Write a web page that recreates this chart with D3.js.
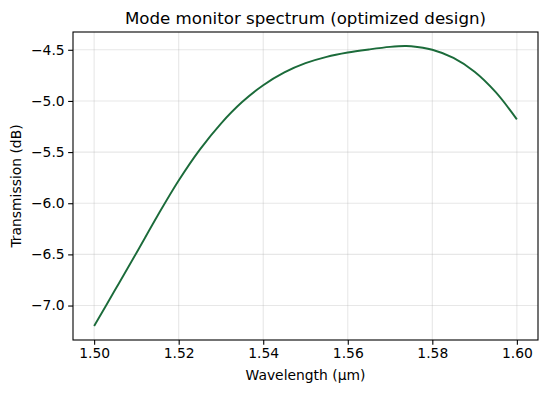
<!DOCTYPE html>
<html>
<head>
<meta charset="utf-8">
<script src="https://cdn.jsdelivr.net/npm/d3@7/dist/d3.min.js"></script>
<style>
  body { margin: 0; background: #fff; }
  text { font-family: "DejaVu Sans", sans-serif; fill: #000; }
</style>
</head>
<body>
<svg id="chart" width="547" height="393"></svg>
<script>
const wavelengths = [1.500, 1.505, 1.510, 1.515, 1.520, 1.525, 1.530, 1.535, 1.540, 1.545, 1.550, 1.555, 1.560, 1.565, 1.570, 1.5735, 1.575, 1.580, 1.585, 1.590, 1.595, 1.600];
const transmission = [-7.20, -6.844, -6.486, -6.122, -5.778, -5.476, -5.221, -5.011, -4.846, -4.721, -4.631, -4.569, -4.527, -4.497, -4.472, -4.463, -4.465, -4.50, -4.58, -4.715, -4.915, -5.18];
const xTicks = [1.50, 1.52, 1.54, 1.56, 1.58, 1.60];
const yTicks = [-7.0, -6.5, -6.0, -5.5, -5.0, -4.5];
const titleText = "Mode monitor spectrum (optimized design)";
const xLabel = "Wavelength (μm)";
const yLabel = "Transmission (dB)";

const data = wavelengths.map((w, i) => ({ w, t: transmission[i] }));
const svg = d3.select("#chart");
const L = 73, R = 538, T = 32, B = 340;

const xMin = d3.min(wavelengths), xMax = d3.max(wavelengths);
const yMin = d3.min(transmission), yMax = d3.max(transmission);
const xm = (xMax - xMin) * 0.05, ym = (yMax - yMin) * 0.05;
const x = d3.scaleLinear().domain([xMin - xm, xMax + xm]).range([L, R]);
const y = d3.scaleLinear().domain([yMin - ym, yMax + ym]).range([B, T]);

const fs = 13.89;
const minus = s => s.replace("-", "\u2212");

// grid
svg.append("g").selectAll("line").data(xTicks).join("line")
  .attr("x1", d => x(d)).attr("x2", d => x(d)).attr("y1", T).attr("y2", B)
  .attr("stroke", "#b0b0b0").attr("stroke-opacity", 0.3).attr("stroke-width", 1.1);
svg.append("g").selectAll("line").data(yTicks).join("line")
  .attr("y1", d => y(d)).attr("y2", d => y(d)).attr("x1", L).attr("x2", R)
  .attr("stroke", "#b0b0b0").attr("stroke-opacity", 0.3).attr("stroke-width", 1.1);

// line
const line = d3.line().x(d => x(d.w)).y(d => y(d.t)).curve(d3.curveCatmullRom.alpha(0.5));
svg.append("path").datum(data).attr("d", line)
  .attr("fill", "none").attr("stroke", "#1b6b3a").attr("stroke-width", 1.9);

// axes
const xAxis = d3.axisBottom(x).tickValues(xTicks).tickFormat(d3.format(".2f")).tickSize(4.86).tickPadding(3.5);
const gx = svg.append("g").attr("transform", `translate(0,${B})`).call(xAxis);
gx.select(".domain").remove();
gx.selectAll("text").attr("font-size", fs).attr("font-family", "DejaVu Sans").attr("fill", "#000");
gx.selectAll("line").attr("stroke", "#000").attr("stroke-width", 1.1);

const yAxis = d3.axisLeft(y).tickValues(yTicks).tickFormat(d => minus(d3.format(".1f")(d))).tickSize(4.86).tickPadding(3.5);
const gy = svg.append("g").attr("transform", `translate(${L},0)`).call(yAxis);
gy.select(".domain").remove();
gy.selectAll("text").attr("font-size", fs).attr("font-family", "DejaVu Sans").attr("fill", "#000");
gy.selectAll("line").attr("stroke", "#000").attr("stroke-width", 1.1);

// frame
svg.append("rect").attr("x", L).attr("y", T).attr("width", R - L).attr("height", B - T)
  .attr("fill", "none").attr("stroke", "#000").attr("stroke-width", 1.1);

// labels
svg.append("text").attr("x", (L + R) / 2).attr("y", 24).attr("text-anchor", "middle")
  .attr("font-size", 16.67).text(titleText);
svg.append("text").attr("x", (L + R) / 2).attr("y", 380).attr("text-anchor", "middle")
  .attr("font-size", fs).text(xLabel);
svg.append("text").attr("transform", `translate(21,${(T + B) / 2}) rotate(-90)`).attr("text-anchor", "middle")
  .attr("font-size", fs).text(yLabel);
</script>
</body>
</html>
